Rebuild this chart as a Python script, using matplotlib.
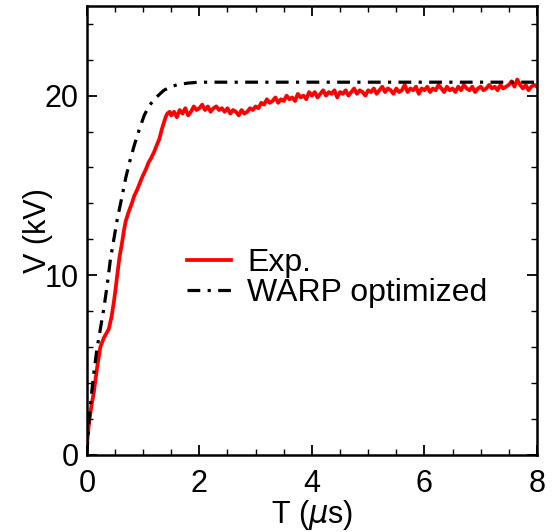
import numpy as np
import matplotlib
matplotlib.use("Agg")
import matplotlib.pyplot as plt
from matplotlib.ticker import MultipleLocator

expT = [0.0, 0.006, 0.04, 0.08, 0.125, 0.18, 0.24, 0.30, 0.39, 0.44, 0.48,
        0.51, 0.54, 0.58, 0.62, 0.66, 0.69, 0.74, 0.80, 0.84, 0.90, 0.95,
        0.99, 1.05, 1.10, 1.14, 1.20, 1.25, 1.29, 1.33, 1.37, 1.40, 1.43,
        1.47] + [round(1.5 + 0.05 * i, 2) for i in range(131)]
expV = [0.4, 0.7, 1.8, 2.7, 3.5, 4.8, 6.0, 6.5, 7.0, 7.7, 8.5,
        9.2, 10.0, 11.0, 11.7, 12.5, 13.0, 13.5, 14.0, 14.4, 14.8, 15.2,
        15.5, 15.9, 16.3, 16.5, 16.9, 17.3, 17.6, 18.1, 18.5, 18.8, 19.0,
        19.1,
        18.9, 19.1, 18.8, 19.2, 19.0, 19.3, 18.9, 19.1, 19.4, 19.2,
        19.3, 19.5, 19.2, 19.4, 19.1, 19.3, 19.4, 19.2, 19.3, 19.1,
        19.3, 19.0, 19.2, 19.1, 18.9, 19.2, 19.0, 19.1, 19.3, 19.2,
        19.4, 19.3, 19.6, 19.5, 19.8, 19.6, 19.7, 19.9, 19.6, 19.8,
        19.7, 20.0, 19.8, 19.9, 19.7, 20.1, 19.9, 20.0, 19.8, 20.2,
        20.0, 20.2, 19.9, 20.1, 20.3, 20.0, 20.2, 20.1, 20.3, 19.9,
        20.2, 20.1, 20.3, 20.0, 20.2, 20.4, 20.1, 20.3, 20.2, 20.0,
        20.3, 20.2, 20.4, 20.1, 20.3, 20.5, 20.2, 20.4, 20.3, 20.1,
        20.4, 20.2, 20.3, 20.6, 20.2, 20.4, 20.3, 20.5, 20.1, 20.4,
        20.3, 20.5, 20.2, 20.4, 20.3, 20.6, 20.4, 20.2, 20.5, 20.3,
        20.4, 20.2, 20.5, 20.3, 20.6, 20.4, 20.3, 20.5, 20.2, 20.4,
        20.5, 20.3, 20.4, 20.6, 20.4, 20.5, 20.3, 20.6, 20.4, 20.5,
        20.6, 20.8, 20.5, 20.9, 20.6, 20.4, 20.6, 20.3, 20.5, 20.6,
        20.5]

# Simulation (black dash-dot)
warpT = [0.0, 0.04, 0.08, 0.13, 0.18, 0.24, 0.30, 0.36, 0.42, 0.48, 0.54,
         0.62, 0.69, 0.76, 0.84, 0.93, 1.02, 1.10, 1.20, 1.30, 1.37, 1.50,
         1.60, 1.80, 2.00, 8.00]
warpV = [0.0, 1.9, 3.3, 4.7, 5.9, 7.0, 8.1, 9.4, 10.9, 12.0, 13.1,
         14.3, 15.4, 16.3, 17.2, 18.1, 18.9, 19.4, 19.8, 20.1, 20.3, 20.5,
         20.6, 20.7, 20.75, 20.75]

plt.rcParams['font.family'] = ['Liberation Sans', 'DejaVu Sans']
plt.rcParams['font.size'] = 21

fig = plt.figure(figsize=(5.53, 5.32), dpi=100)
ax = fig.add_axes([0.157, 0.145, 0.814, 0.844])

ax.plot(expT, expV, color='red', lw=2.7, label='Exp.')
ax.plot(warpT, warpV, color='black', lw=2.3,
        linestyle=(0, (4, 2.3, 1, 2.3)), label='WARP optimized')

ax.set_xlim(0, 8)
ax.set_ylim(0, 25)
ax.xaxis.set_major_locator(MultipleLocator(2))
ax.xaxis.set_minor_locator(MultipleLocator(0.5))
ax.yaxis.set_major_locator(MultipleLocator(10))
ax.yaxis.set_minor_locator(MultipleLocator(2))
ax.tick_params(which='both', direction='in', top=True, right=True,
               labelsize=22)
ax.tick_params(which='major', length=7, width=1.3)
ax.tick_params(which='minor', length=4, width=1.0)
ax.tick_params(axis='x', pad=10)
ax.tick_params(axis='y', pad=6)
for sp in ax.spines.values():
    sp.set_linewidth(1.8)

ax.set_xlabel(r'T ($\mu$s)', fontsize=22)
ax.set_ylabel('V (kV)', fontsize=22)
ax.xaxis.set_label_coords(0.5, -0.096)
ax.yaxis.set_label_coords(-0.075, 0.5)

ax.legend(loc='upper left', bbox_to_anchor=(0.222, 0.46), frameon=False,
          fontsize=23, handlelength=1.4, handletextpad=0.5,
          labelspacing=0.0, borderaxespad=0, borderpad=0)

fig.savefig('out.png', dpi=100)
